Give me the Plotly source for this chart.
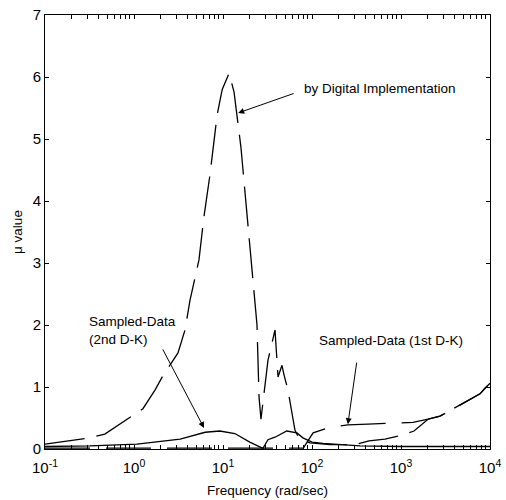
import numpy as np
import plotly.graph_objects as go

# ---- data ----
freq_digital = [0.1, 0.32, 0.47, 1.26, 1.72, 2.07, 3.12, 3.74, 4.26, 5.37, 6.1, 7.1, 8.6, 9.8,
                11.7, 13.3, 15.9, 18.6, 21.2, 24.1, 25.4, 26.7, 32, 38.4, 41.5, 46, 48.4, 53.7,
                64.4, 73, 95, 159, 304, 437, 661, 950, 1400, 2010, 2740, 4040, 5960, 7720, 8790, 10000]
mu_digital = [0.08, 0.18, 0.24, 0.65, 0.95, 1.16, 1.55, 1.92, 2.4, 3.05, 3.74, 4.4, 5.39, 5.8,
              6.06, 5.76, 4.87, 3.8, 2.9, 2.0, 0.84, 0.48, 1.43, 1.92, 1.16, 1.35, 1.2, 0.95,
              0.3, 0.15, 0.1, 0.07, 0.07, 0.13, 0.16, 0.21, 0.29, 0.48, 0.53, 0.66, 0.79, 0.89, 0.98, 1.06]

freq_sd2 = [0.1, 0.32, 1.08, 1.9, 3.3, 6.3, 9.2, 13.6, 20, 28.1, 32, 38.4, 52, 67.8, 79, 100,
            133, 346, 975, 10000]
mu_sd2 = [0.04, 0.05, 0.08, 0.12, 0.16, 0.27, 0.29, 0.25, 0.11, 0.01, 0.15, 0.19, 0.29, 0.26,
          0.18, 0.11, 0.09, 0.05, 0.04, 0.04]

freq_sd1 = [0.1, 1, 10, 80, 88, 103, 159, 253, 425, 1365, 2010, 2740, 4040, 5960, 7720, 8790, 10000]
mu_sd1 = [0.015, 0.015, 0.015, 0.015, 0.11, 0.26, 0.35, 0.39, 0.40, 0.43, 0.48, 0.53, 0.66,
          0.79, 0.89, 0.98, 1.06]

x_decades = [0.1, 1, 10, 100, 1000, 10000]
x_decade_text = ["10<sup>-1</sup>", "10<sup>0</sup>", "10<sup>1</sup>", "10<sup>2</sup>",
                 "10<sup>3</sup>", "10<sup>4</sup>"]
y_tick_vals = [0, 1, 2, 3, 4, 5, 6, 7]

# all log ticks (decades labelled, intermediate digits unlabelled)
x_tick_vals, x_tick_text = [], []
for i, d in enumerate(x_decades):
    x_tick_vals.append(d)
    x_tick_text.append(x_decade_text[i])
    if d < x_decades[-1]:
        for m in range(2, 10):
            x_tick_vals.append(d * m)
            x_tick_text.append("")

label_font = "Liberation Sans, Arial, sans-serif"
tick_font = "Liberation Sans, Arial, sans-serif"

fig = go.Figure()
fig.add_trace(go.Scatter(x=freq_digital, y=mu_digital, mode="lines",
                         line=dict(color="black", width=1.3, dash="40px,12px"),
                         name="by Digital Implementation"))
fig.add_trace(go.Scatter(x=freq_sd2, y=mu_sd2, mode="lines",
                         line=dict(color="black", width=1.3),
                         name="Sampled-Data (2nd D-K)"))
fig.add_trace(go.Scatter(x=freq_sd1, y=mu_sd1, mode="lines",
                         line=dict(color="black", width=1.3, dash="45px,16px"),
                         name="Sampled-Data (1st D-K)"))

W, H = 506, 500
L, R, T, B = 45, 16, 15, 51
pw, ph = W - L - R, H - T - B

def paper_x(px):
    return (px - L) / pw

def paper_y(py):
    return (H - B - py) / ph

annotations = []
arrows = [
    (14.8, 5.42, 57, -20),
    (6.12, 0.34, -42, -80),
    (253, 0.40, 9, -63),
]
for fx, fy, ax, ay in arrows:
    annotations.append(dict(x=np.log10(fx), y=fy, xref="x", yref="y", text="",
                            showarrow=True, arrowhead=2, arrowsize=1.2, arrowwidth=1,
                            arrowcolor="black", ax=ax, ay=ay, standoff=0))

texts = [
    ("by Digital Implementation", 302, 88),
    ("Sampled-Data<br>(2nd D-K)", 87, 330),
    ("Sampled-Data (1st D-K)", 317, 340),
]
for t, px, py in texts:
    annotations.append(dict(x=paper_x(px), y=paper_y(py), xref="paper", yref="paper",
                            text=t, showarrow=False, xanchor="left", yanchor="middle",
                            align="left", font=dict(family=label_font, size=13.5, color="black")))

fig.update_layout(
    width=W, height=H,
    margin=dict(l=L, r=R, t=T, b=B),
    paper_bgcolor="white", plot_bgcolor="white",
    showlegend=False,
    annotations=annotations,
    font=dict(family=tick_font, color="black"),
)
fig.update_xaxes(
    type="log", range=[-1, 4], tickvals=x_tick_vals, ticktext=x_tick_text,
    automargin=False, ticklabeloverflow="allow", ticklabelstandoff=5,
    showgrid=False, zeroline=False, showline=True, linecolor="black", linewidth=1,
    mirror="ticks", ticks="inside", ticklen=4, tickcolor="black",
    tickfont=dict(family=tick_font, size=15, color="black"),
    title=dict(text="Frequency (rad/sec)", font=dict(family=label_font, size=13.5, color="black"),
               standoff=10),
)
fig.update_yaxes(
    range=[0, 7], tickvals=y_tick_vals, automargin=False, ticklabeloverflow="allow",
    showgrid=False, zeroline=False, showline=True, linecolor="black", linewidth=1,
    mirror="ticks", ticks="inside", ticklen=4, tickcolor="black",
    tickfont=dict(family=tick_font, size=15, color="black"),
    title=dict(text="μ value", font=dict(family=label_font, size=13.5, color="black"),
               standoff=6),
)

fig.write_html("out.html", config={"displayModeBar": False},
               post_script="document.body.style.margin='0';document.body.style.overflow='hidden';")
